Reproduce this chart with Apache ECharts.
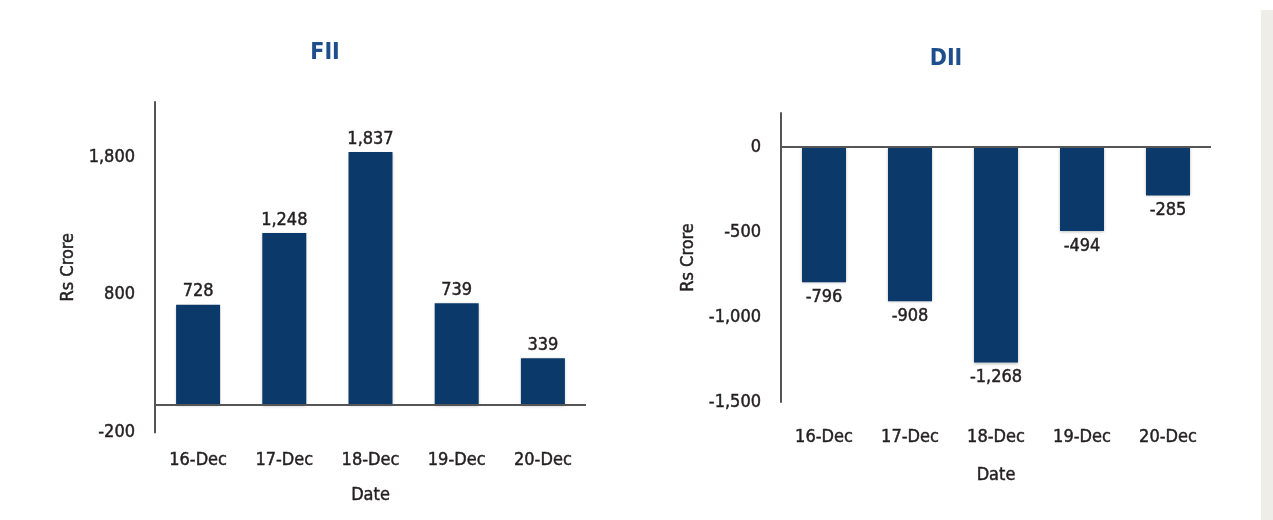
<!DOCTYPE html>
<html>
<head>
<meta charset="utf-8">
<script src="https://cdn.jsdelivr.net/npm/echarts@6/dist/echarts.min.js"></script>
<style>
html,body{margin:0;padding:0;background:#fff;}
#c{width:1273px;height:520px;}
</style>
</head>
<body>
<div id="c"></div>
<script>
const categories = ['16-Dec', '17-Dec', '18-Dec', '19-Dec', '20-Dec'];
const fiiValues = [728, 1248, 1837, 739, 339];
const diiValues = [-796, -908, -1268, -494, -285];
const fiiTicks = [-200, 800, 1800];
const diiTicks = [-1500, -1000, -500, 0];

const FONT = '"DejaVu Sans Condensed", "DejaVu Sans", sans-serif';
const FS = 18;
const TXT = '#231f20';
const BAR = '#0a396a';
const AX = '#555555';
const fmt = v => Number(v).toLocaleString('en-US');
const txt = (extra) => Object.assign({fontFamily: FONT, fontSize: FS, color: TXT,
  textBorderColor: TXT, textBorderWidth: 0.45}, extra || {});

const chart = echarts.init(document.getElementById('c'), null, {renderer: 'canvas'});

function yAxisCfg(gridIndex, min, max, ticks, nameGap) {
  return {
    type: 'value', gridIndex, min, max,
    name: 'Rs Crore', nameLocation: 'middle', nameGap, nameRotate: 90,
    nameTextStyle: txt(),
    axisLine: {show: true, onZero: false, lineStyle: {color: AX, width: 2}},
    axisTick: {show: false},
    splitLine: {show: false},
    axisLabel: txt({customValues: ticks, formatter: v => fmt(v), margin: 20})
  };
}
function xAxisCfg(gridIndex, labelMargin, nameGap) {
  return {
    type: 'category', gridIndex, data: categories,
    position: 'bottom',
    name: 'Date', nameLocation: 'middle', nameGap,
    nameTextStyle: txt(),
    axisLine: {show: false, onZero: false},
    axisTick: {show: false},
    axisLabel: txt({margin: labelMargin, interval: 0})
  };
}
function barSeries(idx, data, pos, dist) {
  return {
    type: 'bar', xAxisIndex: idx, yAxisIndex: idx, data,
    barWidth: 44,
    itemStyle: {color: BAR, shadowColor: 'rgba(0,0,0,0.25)', shadowBlur: 3, shadowOffsetY: 1},
    label: txt({show: true, position: pos, distance: dist, formatter: p => fmt(p.value)}),
    markLine: {silent: true, symbol: 'none', label: {show: false},
      lineStyle: {color: AX, width: 2, type: 'solid'}, data: [{yAxis: 0}]},
    z: 2
  };
}

chart.setOption({
  animation: false,
  backgroundColor: '#ffffff',
  title: [
    {text: 'FII', left: 320, top: 37, textAlign: 'center',
     textStyle: {fontFamily: FONT, fontSize: 23, fontWeight: 'bold', color: '#1f4e8d'}},
    {text: 'DII', left: 941, top: 43, textAlign: 'center',
     textStyle: {fontFamily: FONT, fontSize: 23, fontWeight: 'bold', color: '#1f4e8d'}}
  ],
  graphic: [
    {type: 'rect', left: 1261, top: 10, shape: {width: 12, height: 510},
     style: {fill: '#eeede7'}, silent: true, z: -10}
  ],
  grid: [
    {left: 155, right: 687, top: 102, bottom: 87.5},
    {left: 781, right: 62, top: 113, bottom: 118}
  ],
  xAxis: [xAxisCfg(0, 19, 54), xAxisCfg(1, 26, 64)],
  yAxis: [yAxisCfg(0, -200, 2200, fiiTicks, 78), yAxisCfg(1, -1500, 200, diiTicks, 84)],
  series: [barSeries(0, fiiValues, 'top', 4), barSeries(1, diiValues, 'bottom', 6)]
});
</script>
</body>
</html>
